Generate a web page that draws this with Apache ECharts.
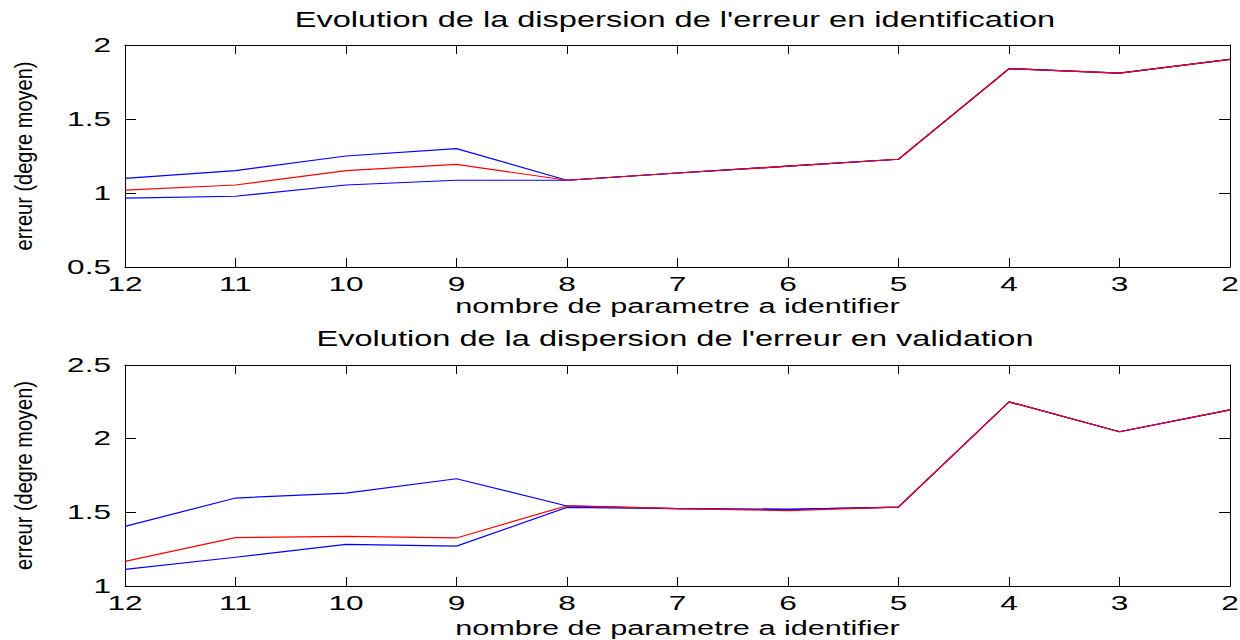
<!DOCTYPE html>
<html>
<head>
<meta charset="utf-8">
<script src="https://cdn.jsdelivr.net/npm/echarts@6/dist/echarts.min.js"></script>
<style>
  html, body { margin: 0; padding: 0; background: #fff; }
  #chart { width: 1240px; height: 640px; }
</style>
</head>
<body>
<div id="chart"></div>
<script>
// Number of identified parameters (x axis, read right to left: 12 down to 2)
const categories = ['12', '11', '10', '9', '8', '7', '6', '5', '4', '3', '2'];

// Identification error: upper bound, mean, lower bound
const identUpper = [1.099, 1.151, 1.250, 1.300, 1.086, 1.135, 1.181, 1.228, 1.840, 1.810, 1.903];
const identMean  = [1.020, 1.054, 1.151, 1.194, 1.086, 1.135, 1.181, 1.228, 1.840, 1.810, 1.903];
const identLower = [0.966, 0.978, 1.054, 1.086, 1.086, 1.135, 1.181, 1.228, 1.840, 1.810, 1.903];

// Validation error: upper bound, mean, lower bound
const validUpper = [1.405, 1.597, 1.631, 1.728, 1.543, 1.525, 1.520, 1.536, 2.250, 2.047, 2.195];
const validMean  = [1.167, 1.328, 1.337, 1.326, 1.545, 1.525, 1.512, 1.536, 2.250, 2.047, 2.195];
const validLower = [1.113, 1.195, 1.283, 1.271, 1.534, 1.525, 1.520, 1.536, 2.250, 2.047, 2.195];

// Y tick values of each panel
const identTicks = [0.5, 1, 1.5, 2];
const validTicks = [1, 1.5, 2, 2.5];

const FONT = '"Liberation Sans", Arial, Helvetica, sans-serif';
const BLACK = '#000';
const BLUE = '#0000ff';
const RED = '#ff0000';
const X_NAME = 'nombre de parametre a identifier';
const Y_NAME = 'erreur (degre moyen)';

const grids = [
  { left: 125, top: 45, width: 1105, height: 222 },
  { left: 125, top: 365, width: 1105, height: 221 }
];

function xAxes(gi, nameGap) {
  const line = { show: true, lineStyle: { color: BLACK, width: 1 } };
  const tick = { show: true, inside: true, length: 9, lineStyle: { color: BLACK, width: 1 } };
  return [
    {
      type: 'category', gridIndex: gi, data: categories, boundaryGap: false, position: 'bottom',
      axisLine: line, axisTick: tick, splitLine: { show: false },
      axisLabel: { color: BLACK, fontSize: 20, fontFamily: FONT, margin: 7 },
      name: X_NAME, nameLocation: 'middle', nameGap: nameGap,
      nameTextStyle: { color: BLACK, fontSize: 21, fontFamily: FONT }
    },
    {
      type: 'category', gridIndex: gi, data: categories, boundaryGap: false, position: 'top',
      axisLine: line, axisTick: tick, splitLine: { show: false }, axisLabel: { show: false }
    }
  ];
}

function yAxes(gi, ticks) {
  const min = ticks[0], max = ticks[ticks.length - 1], step = ticks[1] - ticks[0];
  const line = { show: true, lineStyle: { color: BLACK, width: 1 } };
  const tick = { show: true, inside: true, length: 11, lineStyle: { color: BLACK, width: 1 } };
  return [
    {
      type: 'value', gridIndex: gi, min: min, max: max, interval: step, position: 'left',
      axisLine: line, axisTick: tick, splitLine: { show: false },
      axisLabel: { color: BLACK, fontSize: 20, fontFamily: FONT, margin: 14 },
      name: Y_NAME, nameLocation: 'middle', nameGap: 90,
      nameTextStyle: { color: BLACK, fontSize: 23, fontFamily: FONT }
    },
    {
      type: 'value', gridIndex: gi, min: min, max: max, interval: step, position: 'right',
      axisLine: line, axisTick: tick, splitLine: { show: false }, axisLabel: { show: false }
    }
  ];
}

function line(gi, data, color) {
  return {
    type: 'line', xAxisIndex: gi * 2, yAxisIndex: gi * 2, data: data,
    showSymbol: false, symbol: 'none', silent: true,
    lineStyle: { color: color, width: 1.2 }, itemStyle: { color: color }
  };
}

const titleStyle = { color: BLACK, fontSize: 22, fontWeight: 'normal', fontFamily: FONT };

const option = {
  animation: false,
  backgroundColor: '#fff',
  title: [
    { text: "Evolution de la dispersion de l'erreur en identification", left: 675, top: 8, textAlign: 'center', textStyle: titleStyle, padding: 0 },
    { text: "Evolution de la dispersion de l'erreur en validation", left: 675, top: 327, textAlign: 'center', textStyle: titleStyle, padding: 0 }
  ],
  grid: grids,
  xAxis: [].concat(xAxes(0, 26), xAxes(1, 31)),
  yAxis: [].concat(yAxes(0, identTicks), yAxes(1, validTicks)),
  series: [
    line(0, identUpper, BLUE), line(0, identLower, BLUE), line(0, identMean, RED),
    line(1, validUpper, BLUE), line(1, validLower, BLUE), line(1, validMean, RED)
  ]
};

const dom = document.getElementById('chart');
const chart = echarts.init(dom, null, { renderer: 'svg', width: 1240, height: 640 });

// Horizontal texts get widened lettering, the rotated axis name a condensed one;
// each text is scaled along its own reading direction about its anchor.
function reshapeText() {
  dom.querySelectorAll('text').forEach(function (t) {
    const s = t.textContent || '';
    let k;
    if (s.indexOf('erreur (') === 0) k = 0.87;
    else if (s.indexOf('Evolution') === 0) k = 1.48;
    else if (s.indexOf('nombre') === 0) k = 1.46;
    else k = 1.58;
    if (!t.hasAttribute('data-base')) t.setAttribute('data-base', t.getAttribute('transform') || '');
    const base = t.getAttribute('data-base');
    const x = parseFloat(t.getAttribute('x') || '0') || 0;
    t.setAttribute('transform', base + ' translate(' + x + ' 0) scale(' + k + ' 1) translate(' + (-x) + ' 0)');
  });
}
chart.on('finished', reshapeText);
chart.setOption(option);
reshapeText();
</script>
</body>
</html>
